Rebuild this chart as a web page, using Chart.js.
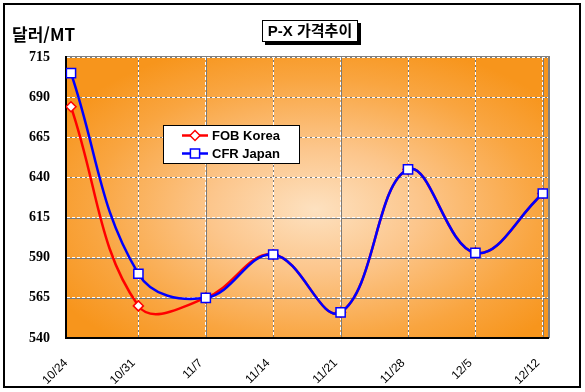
<!DOCTYPE html>
<html lang="ko">
<head>
  <meta charset="UTF-8" />
  <title>P-X 가격추이</title>
  <script src="https://cdn.jsdelivr.net/npm/chart.js"></script>
  <style>
    body { margin: 0; background: #fff; }
    .wrap { width: 585px; height: 392px; position: relative; }
  </style>
</head>
<body>
  <div class="wrap"><canvas id="grafica" width="585" height="392"></canvas></div>
<script>
  // datos
  const semanas = ['10/24', '10/31', '11/7', '11/14', '11/21', '11/28', '12/5', '12/12'];
  const fobKorea = [684, 560, 565, 592, 556, 645, 593, 630];
  const cfrJapan = [705, 580, 565, 592, 556, 645, 593, 630];
  const yTicks = [540, 565, 590, 615, 640, 665, 690, 715];

  const sansKo = "'Liberation Sans', Arial, 'Noto Sans CJK KR', sans-serif";

  // fondo naranja con degradado y lineas grises bajo la rejilla
  const fondo = {
    id: 'fondo',
    beforeDraw(chart) {
      const { ctx, chartArea: a } = chart;
      const cx = (a.left + a.right) / 2 + 8, cy = (a.top + a.bottom) / 2 + 12;
      const rx = (a.right - a.left) * 0.62, ry = (a.bottom - a.top) * 0.62;
      ctx.save();
      // marco exterior
      ctx.fillStyle = '#fff';
      ctx.fillRect(0, 0, chart.width, chart.height);
      ctx.strokeStyle = '#000';
      ctx.lineWidth = 2;
      ctx.strokeRect(4, 4, 576, 383);
      ctx.beginPath();
      ctx.rect(a.left, a.top, a.right - a.left, a.bottom - a.top);
      ctx.clip();
      ctx.translate(cx, cy);
      ctx.scale(1, ry / rx);
      const g = ctx.createRadialGradient(0, 0, 0, 0, 0, rx);
      g.addColorStop(0, '#fde1c0');
      g.addColorStop(0.35, '#fcc68c');
      g.addColorStop(0.75, '#f9a540');
      g.addColorStop(1, '#f7951c');
      ctx.fillStyle = g;
      ctx.fillRect(-rx * 2, -rx * 2, rx * 4, rx * 4);
      ctx.restore();

      // lineas grises entre los guiones blancos
      const xs = chart.scales.x, ys = chart.scales.y;
      ctx.save();
      ctx.strokeStyle = '#7a7a7a';
      ctx.lineWidth = 1;
      ctx.beginPath();
      xs.ticks.forEach(t => {
        if (t.value === 0) return;
        const px = Math.round(xs.getPixelForValue(t.value)) + 0.5;
        ctx.moveTo(px, a.top); ctx.lineTo(px, a.bottom);
      });
      ys.ticks.forEach(t => {
        const py = Math.round(ys.getPixelForValue(t.value)) + 0.5;
        ctx.moveTo(a.left, py); ctx.lineTo(a.right, py);
      });
      ctx.stroke();
      // borde gris arriba y a la derecha
      ctx.strokeStyle = '#808080';
      ctx.lineWidth = 2;
      ctx.beginPath();
      ctx.moveTo(a.left, a.top); ctx.lineTo(a.right + 1, a.top); ctx.lineTo(a.right + 1, a.bottom);
      ctx.stroke();
      ctx.restore();
    }
  };

  function marcador(ctx, estilo, x, y, r, color) {
    ctx.beginPath();
    if (estilo === 'rectRot') {
      ctx.moveTo(x, y - r); ctx.lineTo(x + r, y); ctx.lineTo(x, y + r); ctx.lineTo(x - r, y); ctx.closePath();
    } else {
      const s = r * Math.SQRT1_2;
      ctx.rect(x - s, y - s, 2 * s, 2 * s);
    }
    ctx.fillStyle = '#fff';
    ctx.fill();
    ctx.strokeStyle = color;
    ctx.lineWidth = 1.5;
    ctx.stroke();
  }

  // titulo con sombra, titulo del eje y leyenda en caja
  const textos = {
    id: 'textos',
    afterDraw(chart) {
      const ctx = chart.ctx;
      ctx.save();
      // titulo
      ctx.fillStyle = '#000';
      ctx.fillRect(265, 23, 96, 22);
      ctx.fillStyle = '#fff';
      ctx.fillRect(262, 20, 96, 22);
      ctx.strokeStyle = '#000';
      ctx.lineWidth = 1;
      ctx.strokeRect(262.5, 20.5, 95, 21);
      ctx.fillStyle = '#000';
      ctx.font = "bold 15px " + sansKo;
      ctx.textAlign = 'center';
      ctx.textBaseline = 'middle';
      ctx.fillText('P-X 가격추이', 310, 31.5);
      // unidad del eje y
      ctx.font = "bold 17px 'Noto Sans CJK KR', sans-serif";
      ctx.textAlign = 'left';
      ctx.fillText('달러/MT', 12, 35);

      // leyenda
      ctx.fillStyle = '#fff';
      ctx.fillRect(163.5, 125.5, 136, 38);
      ctx.strokeStyle = '#000';
      ctx.lineWidth = 1;
      ctx.strokeRect(163.5, 125.5, 136, 38);
      chart.data.datasets.forEach((ds, i) => {
        const y = 135.5 + i * 18;
        ctx.strokeStyle = ds.borderColor;
        ctx.lineWidth = 2.5;
        ctx.beginPath();
        ctx.moveTo(182, y); ctx.lineTo(208, y);
        ctx.stroke();
        marcador(ctx, ds.pointStyle, 195, y, ds.pointRadius, ds.borderColor);
        ctx.fillStyle = '#000';
        ctx.font = "bold 13px 'Liberation Sans', Arial, sans-serif";
        ctx.textBaseline = 'middle';
        ctx.fillText(ds.label, 212, y + 0.5);
      });
      ctx.restore();
    }
  };

  const ctx1 = document.getElementById('grafica').getContext('2d');
  new Chart(ctx1, {
    type: 'line',
    data: {
      datasets: [
        {
          label: 'FOB Korea',
          data: fobKorea.map((v, i) => ({ x: i, y: v })),
          borderColor: '#ff0000',
          borderWidth: 2.5,
          pointStyle: 'rectRot',
          pointRadius: 5,
          pointBorderWidth: 1.5,
          pointBackgroundColor: '#fff',
          tension: 0.4,
          order: 1
        },
        {
          label: 'CFR Japan',
          data: cfrJapan.map((v, i) => ({ x: i, y: v })),
          borderColor: '#0000ff',
          borderWidth: 2.5,
          pointStyle: 'rect',
          pointRadius: 6.5,
          pointBorderWidth: 1.5,
          pointBackgroundColor: '#fff',
          tension: 0.4,
          order: 0
        }
      ]
    },
    options: {
      responsive: false,
      animation: false,
      layout: { padding: { top: 57, right: 37, left: 0, bottom: 0 } },
      plugins: {
        legend: { display: false },
        tooltip: { enabled: false }
      },
      scales: {
        x: {
          type: 'linear',
          min: -0.074,
          max: 7.077,
          afterBuildTicks: s => { s.ticks = semanas.map((_, i) => ({ value: i })); },
          afterFit: s => { s.height = 54; },
          grid: {
            color: c => c.tick && c.tick.value === 0 ? 'rgba(0,0,0,0)' : '#fff',
            drawTicks: false
          },
          border: { color: '#000', width: 2, dash: [3, 2] },
          ticks: {
            color: '#000',
            minRotation: 45,
            maxRotation: 45,
            padding: 18,
            labelOffset: -5,
            font: { family: "'Liberation Sans', Arial, sans-serif", size: 12 },
            callback: v => semanas[v]
          }
        },
        y: {
          min: yTicks[0],
          max: yTicks[yTicks.length - 1],
          afterBuildTicks: s => { s.ticks = yTicks.map(v => ({ value: v })); },
          afterFit: s => { s.width = 66; },
          grid: { color: '#fff', drawTicks: false },
          border: { color: '#000', width: 2, dash: [3, 2] },
          ticks: {
            color: '#000',
            padding: 16,
            font: { family: "'Liberation Serif', 'Times New Roman', serif", size: 14, weight: 'bold' }
          }
        }
      }
    },
    plugins: [fondo, textos]
  });
</script>
</body>
</html>
